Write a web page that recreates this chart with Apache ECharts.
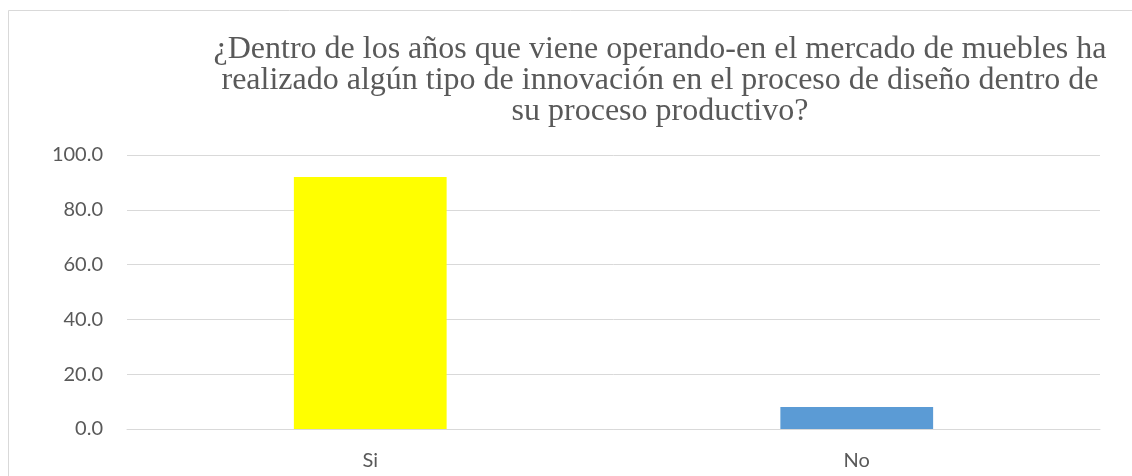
<!DOCTYPE html>
<html><head><meta charset="utf-8">
<script src="https://cdn.jsdelivr.net/npm/echarts@6/dist/echarts.min.js"></script>
<style>html,body{margin:0;padding:0;background:#fff}#c{width:1132px;height:476px}</style>
</head><body><div id="c"></div>
<script>
const categories = ['Si', 'No'];
const values = [92, 8];
const barColors = ['#FFFF00', '#5B9BD5'];
const titleLines = [
  '¿Dentro de los años que viene operando-en el mercado de muebles ha',
  'realizado algún tipo de innovación en el proceso de diseño dentro de',
  'su proceso productivo?'
];
const chart = echarts.init(document.getElementById('c'));
chart.setOption({
  animation: false,
  backgroundColor: '#fff',
  title: {
    text: titleLines.join('\n'),
    left: 655, top: 29, textAlign: 'center',
    textStyle: { fontFamily: 'Liberation Serif', fontSize: 32, fontWeight: 'normal', color: '#595959', lineHeight: 31 }
  },
  graphic: [{ type: 'rect', shape: { x: 8.5, y: 10.5, width: 1200, height: 600 }, style: { fill: 'none', stroke: '#D9D9D9', lineWidth: 1 }, silent: true }],
  grid: { left: 127, right: 32, top: 155, bottom: 47, containLabel: false },
  xAxis: {
    type: 'category', data: categories,
    axisLine: { show: true, lineStyle: { color: '#D9D9D9' } },
    axisTick: { show: false },
    axisLabel: { color: '#595959', fontFamily: 'Lato', fontSize: 20, margin: 22 }
  },
  yAxis: {
    type: 'value', min: 0, max: 100, interval: 20,
    axisLine: { show: false }, axisTick: { show: false },
    splitLine: { lineStyle: { color: '#D9D9D9', width: 1 } },
    axisLabel: { color: '#595959', fontFamily: 'Lato', fontSize: 20, margin: 24, formatter: v => v.toFixed(1) }
  },
  series: [{
    type: 'bar', barWidth: '31.4%',
    data: values.map((v, i) => ({ value: v, itemStyle: { color: barColors[i] } }))
  }]
});
</script></body></html>
